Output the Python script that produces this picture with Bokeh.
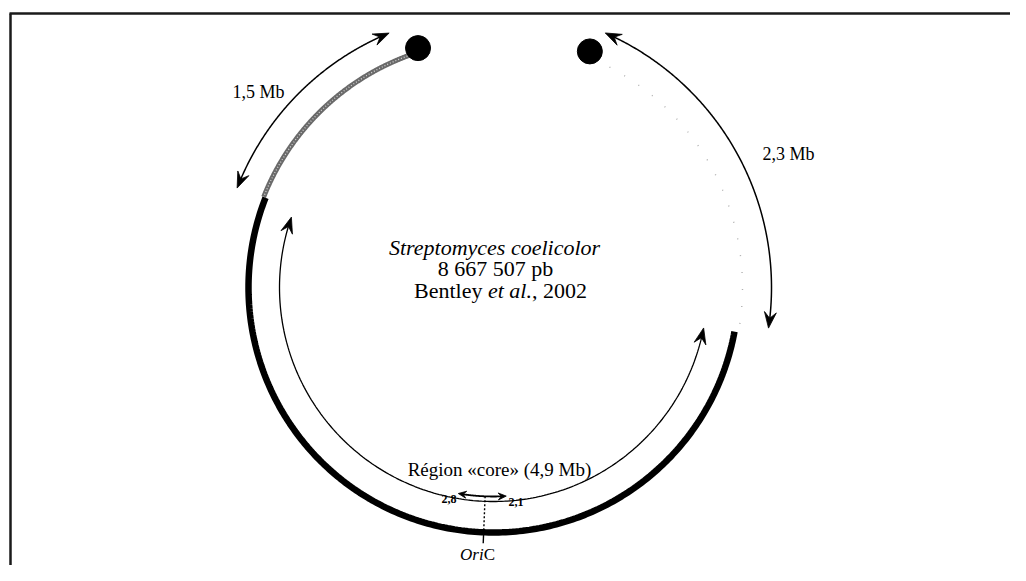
import numpy as np
from bokeh.plotting import figure
from bokeh.models import Range1d
from bokeh.core.properties import value
from bokeh.embed import file_html
from bokeh.resources import INLINE

# ---------------- data ----------------
segment_names = ["Bras gauche", "Région core", "Bras droit"]
segment_mb = [1.5, 4.9, 2.3]
core_split_mb = [2.8, 2.1]          # OriC -> left arm, OriC -> right arm
size_labels = ["1,5 Mb", "Région «core» (4,9 Mb)", "2,3 Mb"]
ori_labels = ["2,8", "2,1"]
species = "Streptomyces coelicolor"
genome_label = "8 667 507 pb"
ref_parts = ["Bentley ", "et al.", ", 2002"]
ref_italic = [False, True, False]
ori_parts = ["Ori", "C"]
ori_italic = [True, False]

# ---------------- layout ----------------
W, H = 1010, 565
FONT = "Liberation Serif"
CX, CY, R = 493.0, 287.0, 245.0
ORI = 267.7          # angle of OriC (degrees, counter-clockwise, 0 = right)
K_CORE, K_ARM = 39.0, 34.0   # degrees per Mb

# Times-like metrics (per 1000 em) for laying out mixed-style text
REG = {" ": 250, "B": 667, "e": 444, "n": 500, "t": 278, "l": 278, "y": 500,
       ",": 250, ".": 250, "a": 444, "C": 667, "O": 722, "r": 333, "i": 278}
ITA = {" ": 250, "e": 444, "t": 278, "a": 500, "l": 278, ".": 250,
       "O": 722, "r": 389, "i": 278, "C": 667}


def text_w(s, size, italic):
    m = ITA if italic else REG
    return sum(m.get(c, 500) for c in s) * size / 1000.0


p = figure(width=W, height=H, x_range=Range1d(0, W), y_range=Range1d(H, 0),
           output_backend="svg", toolbar_location=None,
           x_axis_location=None, y_axis_location=None, min_border=0)
p.grid.visible = False
p.outline_line_color = None
p.background_fill_color = "white"
p.border_fill_color = "white"


def pt(a, r):
    t = np.radians(a)
    return CX + r * np.cos(t), CY - r * np.sin(t)


def arc(a0, a1, r, n=240):
    t = np.linspace(a0, a1, n)
    x, y = pt(t, r)
    return list(x), list(y)


def head(a_tip, a_dir, r, L, Wd):
    tx, ty = pt(a_tip, r)
    dth = np.degrees(L / r) * a_dir
    bx, by = pt(a_tip - dth, r)
    d = np.array([tx - bx, ty - by])
    d = d / np.hypot(*d)
    nrm = np.array([-d[1], d[0]])
    tip = np.array([tx, ty])
    back = tip - d * L
    p1 = back + nrm * Wd / 2
    p2 = tip - d * L * 0.62
    p3 = back - nrm * Wd / 2
    return [tx, p1[0], p2[0], p3[0]], [ty, p1[1], p2[1], p3[1]]


def arrow_arc(a0, a1, r, lw, L, Wd, color="black"):
    s = 1.0 if a1 > a0 else -1.0
    trim = np.degrees(0.6 * L / r)
    x, y = arc(a0 + s * trim, a1 - s * trim, r)
    p.line(x, y, line_width=lw, line_color=color)
    hx1, hy1 = head(a1, s, r, L, Wd)
    hx0, hy0 = head(a0, -s, r, L, Wd)
    p.patches([hx0, hx1], [hy0, hy1], fill_color=color, line_color=color, line_width=0.8)


# angles from the data
left_bound = ORI - core_split_mb[0] * K_CORE
right_bound = ORI + core_split_mb[1] * K_CORE
left_end = left_bound - segment_mb[0] * K_ARM
right_end = right_bound + segment_mb[2] * K_ARM

# frame of the scanned figure
p.line([9, W], [13, 13], line_width=2.5, line_color="#1a1a1a")
p.line([10, 10], [13, H], line_width=2.5, line_color="#1a1a1a")

# chromosome: left arm (grey), core (thick black), right arm (faint dots)
x, y = arc(left_end + 1.5, left_bound, R + 2)
p.line(x, y, line_width=5, line_color="#6a6a6a")
p.line(x, y, line_width=1.3, line_color="#d2d2d2", line_dash="1 2")
x, y = arc(left_bound, right_bound, R)
p.line(x, y, line_width=6.5, line_color="black")
x, y = arc(right_bound + 2, right_end - 1, R + 4)
p.line(x, y, line_width=1.4, line_color="#b0b0b0", line_dash="1 16")

# telomere ends
ex, ey = pt(np.array([left_end, right_end]), np.array([R + 6, R + 10]))
p.circle(x=list(ex), y=list(ey), radius=12.5, fill_color="black", line_color="black")

# size arrows
arrow_arc(left_end + 4.8, left_bound + 0.3, 275, 1.5, 16, 12)
arrow_arc(right_bound + 2.0, right_end - 1.5, 278, 1.5, 16, 12)
arrow_arc(left_bound + 2.3, right_bound - 0.5, 214, 1.3, 16, 12)
arrow_arc(ORI - 7.4, ORI + 5.8, 209, 1.8, 8, 7)

# OriC marker
x0, y0 = pt(ORI, 209)
x1, y1 = pt(ORI, 245)
x2, y2 = pt(ORI, 256)
p.line([x0, x1], [y0, y1], line_width=1.4, line_color="black", line_dash="2 2")
p.line([x1, x2], [y1, y2], line_width=1.4, line_color="black")

# labels
p.text(x=[232], y=[91], text=[size_labels[0]], text_font=value(FONT),
       text_font_size="18px", text_align="left", text_baseline="alphabetic", text_color="black")
p.text(x=[762], y=[153], text=[size_labels[2]], text_font=value(FONT),
       text_font_size="18px", text_align="left", text_baseline="alphabetic", text_color="black")
p.text(x=[499], y=[469], text=[size_labels[1]], text_font=value(FONT),
       text_font_size="19px", text_align="center", text_baseline="alphabetic", text_color="black")
p.text(x=[456], y=[498], text=[ori_labels[0]], text_font=value(FONT),
       text_font_size="12px", text_font_style="bold", text_align="right",
       text_baseline="alphabetic", text_color="black")
p.text(x=[508], y=[501], text=[ori_labels[1]], text_font=value(FONT),
       text_font_size="12px", text_font_style="bold", text_align="left",
       text_baseline="alphabetic", text_color="black")

# central title
FS = 22
p.text(x=[494], y=[247], text=[species], text_font=value(FONT), text_font_style="italic",
       text_font_size=f"{FS}px", text_align="center", text_baseline="alphabetic", text_color="black")
p.text(x=[495], y=[268], text=[genome_label], text_font=value(FONT),
       text_font_size=f"{FS}px", text_align="center", text_baseline="alphabetic", text_color="black")


def mixed(parts, italics, cx, by, size):
    widths = [text_w(s, size, it) for s, it in zip(parts, italics)]
    xpos = cx - sum(widths) / 2
    for s, it, w in zip(parts, italics, widths):
        p.text(x=[xpos], y=[by], text=[s], text_font=value(FONT),
               text_font_style="italic" if it else "normal",
               text_font_size=f"{size}px", text_align="left",
               text_baseline="alphabetic", text_color="black")
        xpos += w


mixed(ref_parts, ref_italic, 500, 290, FS)
mixed(ori_parts, ori_italic, 477, 554, 17)

open("out.html", "w").write(file_html(p, INLINE))
